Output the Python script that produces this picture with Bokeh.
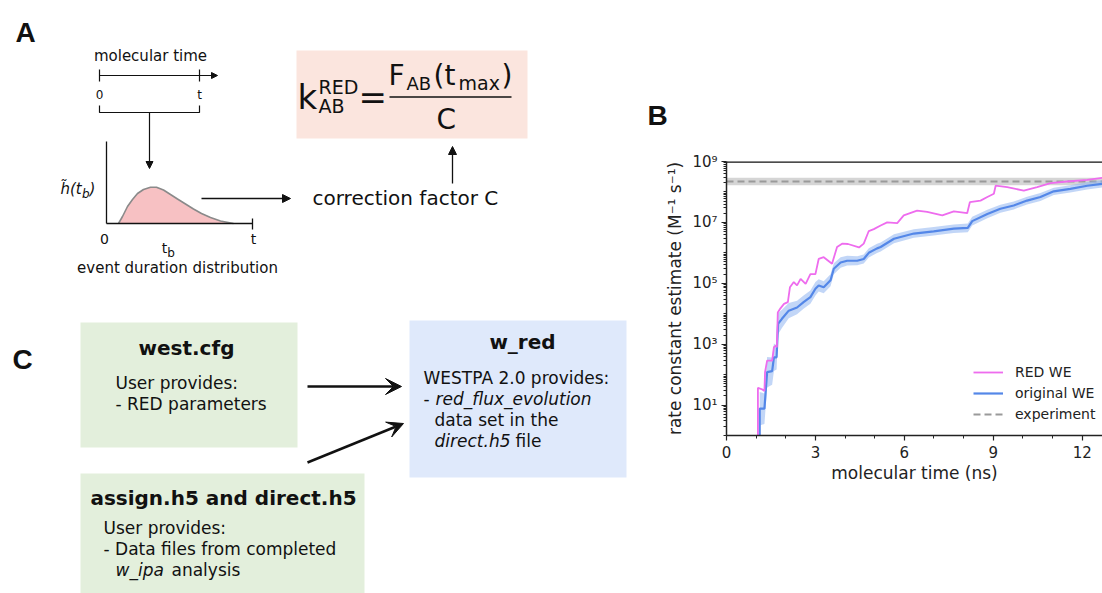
import numpy as np
from bokeh.plotting import figure
from bokeh.layouts import row
from bokeh.models import (Range1d, Arrow, NormalHead, VeeHead, FixedTicker,
                          CustomJSTickFormatter, Legend, LegendItem, Span)
from bokeh.core.properties import value
from bokeh.embed import file_html
from bokeh.resources import INLINE

# ---------------- Panel B data ----------------
red_t = [1.06, 1.06, 1.22, 1.28, 1.30, 1.37, 1.54, 1.60, 1.66, 1.70, 1.73, 1.82, 1.94, 2.07, 2.14,
         2.27, 2.38, 2.50, 2.67, 2.83, 3.00, 3.11, 3.28, 3.56, 3.73, 3.90, 4.10, 4.47, 4.63, 4.80,
         4.97, 5.20, 5.42, 5.76, 5.98, 6.43, 6.77, 7.28, 7.67, 8.12, 8.21, 8.57, 8.80, 9.02, 9.08,
         9.47, 10.03, 10.48, 10.93, 11.49, 12.17, 12.69]
red_k = [0.5, 37, 32, 29, 120, 290, 290, 800, 890, 800, 1.1e4, 1.5e4, 2.1e4, 2.4e4, 7.4e4,
         1.1e5, 8.5e4, 1.4e5, 9.5e4, 2.0e5, 2.0e5, 6.3e5, 7.2e5, 4.4e5, 1.55e6, 2.0e6, 1.95e6, 1.5e6, 2.0e6, 5.2e6,
         6.0e6, 7.9e6, 1.0e7, 9.5e6, 1.7e7, 2.45e7, 2.2e7, 1.7e7, 2.3e7, 2.0e7, 4.6e7, 5.2e7, 6.8e7, 8.7e7, 1.6e8,
         1.45e8, 1.1e8, 1.45e8, 1.95e8, 2.2e8, 2.5e8, 2.9e8]

orig_t = [1.12, 1.12, 1.28, 1.37, 1.54, 1.60, 1.69, 1.74, 1.87, 2.10, 2.38, 2.60, 2.83, 3.00, 3.11,
          3.28, 3.51, 3.62, 3.85, 4.07, 4.41, 4.63, 4.80, 5.08, 5.20, 5.65, 6.32, 6.99, 7.67, 8.14,
          8.29, 8.80, 9.24, 9.69, 10.14, 10.59, 11.04, 11.60, 12.17, 12.69]
orig_k = [0.3, 7.6, 7.6, 120, 130, 370, 370, 4.7e3, 6.8e3, 1.26e4, 1.6e4, 2.4e4, 3.5e4, 6.6e4, 8.5e4,
          7.4e4, 1.26e5, 3.0e5, 4.8e5, 5.5e5, 5.5e5, 6.3e5, 1.0e6, 1.4e6, 1.55e6, 2.9e6, 4.3e6, 5.1e6, 6.2e6, 6.6e6,
          1.1e7, 1.9e7, 2.8e7, 3.6e7, 5.2e7, 6.8e7, 1.05e8, 1.26e8, 1.6e8, 1.85e8]
# half-width of the shaded uncertainty band, in decades
orig_err = [0.55, 0.55, 0.5, 0.5, 0.45, 0.45, 0.4, 0.35, 0.3, 0.25, 0.22, 0.22, 0.22, 0.22, 0.2,
            0.2, 0.2, 0.18, 0.17, 0.16, 0.15, 0.15, 0.15, 0.15, 0.15, 0.15, 0.14, 0.14, 0.14, 0.14,
            0.14, 0.14, 0.13, 0.13, 0.13, 0.13, 0.12, 0.12, 0.12, 0.12]

exp_k = 2.2e8
exp_lo = 1.65e8
exp_hi = 2.95e8

x_max = 12.685
x_ticks = [0, 3, 6, 9, 12]
x_minor = [1, 2, 4, 5, 7, 8, 10, 11]
y_ticks = [1e1, 1e3, 1e5, 1e7, 1e9]

legend_labels = ["RED WE", "original WE", "experiment"]

RED_C = "#ee6cee"
BLUE_C = "#5487e8"

# ---------------- Panel A / C texts ----------------
box1_title = "west.cfg"
box1_lines = ["User provides:", "- RED parameters"]
box2_title = "w_red"
box3_title = "assign.h5 and direct.h5"
box3_lines = ["User provides:", "- Data files from completed"]

# schematic event-duration hump (canvas pixel coords)
hump_x = [118, 122, 127, 132, 137, 143, 150, 156, 163, 170, 177, 185, 193, 201, 210, 220, 233]
hump_y = [223, 216, 206, 199, 193, 189, 186.8, 186.8, 189.5, 194, 198.5, 203.5, 208.5, 213, 217, 220.5, 223]

FONT = "DejaVu Sans"
W, H = 1102, 593

# ================= canvas for panels A and C =================
canvas = figure(width=640, height=H, x_range=Range1d(0, 640), y_range=Range1d(H, 0),
                output_backend="svg", toolbar_location=None, min_border=0,
                x_axis_location=None, y_axis_location=None)
canvas.grid.visible = False
canvas.outline_line_color = None
canvas.frame_align = False


def txt(x, y, s, size, style="normal", align="left", baseline="middle", font=FONT, color="#111111"):
    canvas.text(x=[x], y=[y], text=[s], text_font=value(font), text_font_size=f"{size}px",
                text_font_style=style, text_align=align, text_baseline=baseline, text_color=color)


def arrow(x0, y0, x1, y1, head, lw=1.2):
    canvas.add_layout(Arrow(x_start=x0, y_start=y0, x_end=x1, y_end=y1, end=head,
                            line_width=lw, line_color="#111111"))


# panel letters
txt(25, 32, "A", 28, "bold", "center", font="Liberation Sans")
txt(22, 359, "C", 28, "bold", "center", font="Liberation Sans")

# --- panel A: timeline ---
txt(150, 55, "molecular time", 15, align="center")
arrow(99, 75, 217, 75, NormalHead(size=6, fill_color="#111111", line_color="#111111"), 1.2)
canvas.segment(x0=[99, 199], y0=[69, 69], x1=[99, 199], y1=[81, 81], line_color="#111111", line_width=1.2)
txt(99, 94, "0", 12, align="center")
txt(199, 94, "t", 12, align="center")
canvas.line(x=[99, 99, 199, 199], y=[105, 112, 112, 105], line_color="#111111", line_width=1.2)
arrow(149, 112, 149, 168, NormalHead(size=7, fill_color="#111111", line_color="#111111"), 1.2)

# --- panel A: distribution ---
canvas.patch(x=hump_x, y=hump_y, fill_color="#f7c1c3", line_color=None)
canvas.line(x=hump_x, y=hump_y, line_color="#8a8a8a", line_width=1.6)
canvas.line(x=[106, 106], y=[141, 223], line_color="#111111", line_width=1.3)
canvas.line(x=[106, 252], y=[223, 223], line_color="#111111", line_width=1.3)
canvas.segment(x0=[252], y0=[218], x1=[252], y1=[229], line_color="#111111", line_width=1.3)
txt(60, 188, "h\u0303(t", 15, "italic")
txt(81.5, 193, "b", 12, "italic")
txt(89, 188, ")", 15, "italic")
txt(104, 238, "0", 14, align="center")
txt(253, 238, "t", 14, align="center")
txt(164, 247, "t", 14, align="center")
txt(170.5, 252, "b", 12, align="center")
txt(177, 267, "event duration distribution", 15, align="center")
arrow(201, 198, 290, 198, NormalHead(size=8, fill_color="#111111", line_color="#111111"), 1.3)
txt(312, 197, "correction factor C", 20)
arrow(452, 183, 452, 146, NormalHead(size=8, fill_color="#111111", line_color="#111111"), 1.3)

# --- panel A: formula box ---
canvas.quad(left=[296], right=[527], top=[50], bottom=[138], fill_color="#fbe5de", line_color=None)
txt(297, 96, "k", 34)
txt(318, 86, "RED", 19)
txt(318, 105, "AB", 19)
txt(358, 96, "=", 34)
txt(388, 75, "F", 28)
txt(406, 82.5, "AB", 18)
txt(433, 75, "(t", 28)
txt(458, 82, "max", 19)
txt(501, 75, ")", 28)
canvas.segment(x0=[389], y0=[96.5], x1=[511], y1=[96.5], line_color="#111111", line_width=1.6)
txt(436, 119, "C", 28)

# --- panel C: boxes ---
canvas.quad(left=[80, 80], right=[297, 364], top=[322, 473], bottom=[447, 600],
            fill_color="#e3efdc", line_color=None)
canvas.quad(left=[409], right=[626], top=[320], bottom=[477], fill_color="#dfe9fb", line_color=None)

txt(186, 347, box1_title, 20, "bold", "center")
txt(115, 382, box1_lines[0], 17)
txt(115, 403, box1_lines[1], 17)

txt(522, 341, box2_title, 20, "bold", "center")
txt(423, 377, "WESTPA 2.0 provides:", 17)
txt(423, 398, "- ", 17)
txt(435, 398, "red_flux_evolution", 17, "italic")
txt(434, 419, "data set in the", 17)
txt(434, 440, "direct.h5", 17, "italic")
txt(515, 440, "file", 17)

txt(223, 497, box3_title, 20, "bold", "center")
txt(103, 527, box3_lines[0], 17)
txt(103, 548, box3_lines[1], 17)
txt(115, 569, "w_ipa", 17, "italic")
txt(171, 569, "analysis", 17)

arrow(307, 386, 401, 386, VeeHead(size=16, fill_color="#111111", line_color="#111111"), 2.5)
arrow(307, 462, 403, 423, VeeHead(size=16, fill_color="#111111", line_color="#111111"), 2.5)

# ================= panel B =================
pB = figure(width=W - 640, height=H, x_range=Range1d(0, x_max), y_range=Range1d(1, 1e9),
            y_axis_type="log", output_backend="svg", toolbar_location=None,
            min_border_left=86, min_border_right=0, min_border_top=161, min_border_bottom=H - 435,
            title="B")
pB.frame_align = False
pB.outline_line_color = None
pB.grid.visible = False
pB.background_fill_color = "white"
pB.title.align = "left"
pB.title.offset = -79
pB.title.standoff = 62
pB.title.text_font = "Liberation Sans"
pB.title.text_font_size = "28px"
pB.title.text_font_style = "bold"
pB.title.text_color = "#111111"

r_expband = pB.varea(x=[0, x_max], y1=[exp_lo, exp_lo], y2=[exp_hi, exp_hi],
                     fill_color="#b9b9b9", fill_alpha=0.6)
r_exp = pB.line(x=[0, x_max], y=[exp_k, exp_k], line_color="#9a9a9a", line_width=2.2, line_dash="7 4")

ot = np.array(orig_t)
ok = np.array(orig_k)
oe = np.array(orig_err)
pB.varea(x=ot, y1=ok / 10 ** oe, y2=ok * 10 ** oe, fill_color="#8fb4f0", fill_alpha=0.55)
r_orig = pB.line(x=orig_t, y=orig_k, line_color=BLUE_C, line_width=2.2)
r_red = pB.line(x=red_t, y=red_k, line_color=RED_C, line_width=1.8)

pB.add_layout(Span(location=1e9, dimension="width", line_color="#111111", line_width=2.5))

pB.xaxis.ticker = FixedTicker(ticks=x_ticks, minor_ticks=x_minor)
minor_y = [m * 10 ** e for e in range(0, 9) for m in range(2, 10)] + [10 ** e for e in range(0, 10, 2)]
pB.yaxis.ticker = FixedTicker(ticks=y_ticks, minor_ticks=minor_y)
pB.yaxis.formatter = CustomJSTickFormatter(code="""
const sup = {"0":"\u2070","1":"\u00b9","2":"\u00b2","3":"\u00b3","4":"\u2074","5":"\u2075","6":"\u2076","7":"\u2077","8":"\u2078","9":"\u2079","-":"\u207b"};
const e = Math.round(Math.log10(tick));
return "10" + String(e).split("").map(c => sup[c]).join("");
""")

for ax in (pB.xaxis, pB.yaxis):
    ax.axis_line_color = "#222222"
    ax.axis_line_width = 1.5
    ax.major_tick_line_color = "#222222"
    ax.minor_tick_line_color = "#222222"
    ax.major_tick_line_width = 1.2
    ax.minor_tick_line_width = 1
    ax.major_tick_in = 0
    ax.major_tick_out = 5
    ax.minor_tick_in = 0
    ax.minor_tick_out = 3
    ax.major_label_text_font = FONT
    ax.major_label_text_font_size = "15px"
    ax.major_label_text_color = "#222222"
    ax.axis_label_text_font = FONT
    ax.axis_label_text_font_size = "17px"
    ax.axis_label_text_font_style = "normal"
    ax.axis_label_text_color = "#222222"

pB.xaxis.axis_label = "molecular time (ns)"
pB.xaxis.major_label_standoff = 5
pB.xaxis.axis_label_standoff = 2
pB.yaxis.axis_label = "rate constant estimate (M\u207b\u00b9 s\u207b\u00b9)"
pB.yaxis.major_label_standoff = 4
pB.yaxis.axis_label_standoff = 4

legend = Legend(items=[LegendItem(label=legend_labels[0], renderers=[r_red]),
                       LegendItem(label=legend_labels[1], renderers=[r_orig]),
                       LegendItem(label=legend_labels[2], renderers=[r_exp])],
                location=(247, 11))
legend.border_line_color = None
legend.background_fill_alpha = 0
legend.label_text_font = FONT
legend.label_text_font_size = "14px"
legend.label_text_color = "#222222"
legend.glyph_width = 30
legend.glyph_height = 20
legend.label_height = 20
legend.spacing = 1
legend.padding = 5
legend.margin = 0
legend.label_standoff = 12
pB.add_layout(legend)

layout = row(canvas, pB)
open("out.html", "w").write(file_html(layout, INLINE))
